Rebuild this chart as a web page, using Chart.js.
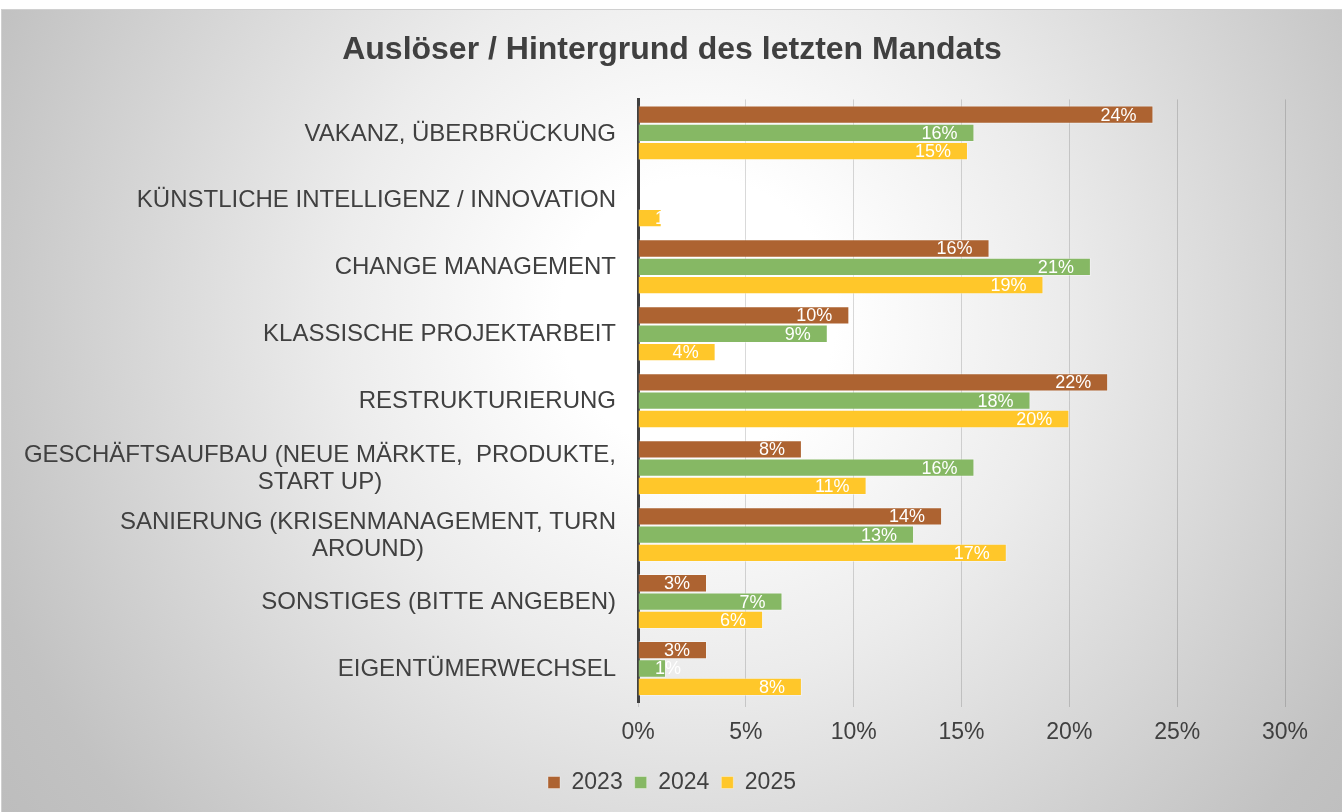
<!DOCTYPE html>
<html>
<head>
<meta charset="utf-8">
<script src="https://cdn.jsdelivr.net/npm/chart.js@4/dist/chart.umd.min.js"></script>
<style>
  html, body { margin: 0; padding: 0; background: #fff; }
  #wrap {
    position: absolute; left: 1px; top: 9px; width: 1340px; height: 803px;
    border-top: 1px solid #d0d0d0; border-left: 1px solid #d0d0d0;
    background: radial-gradient(circle farthest-corner at 52% 38%, #ffffff 0%, #ffffff 16%, #ececec 42%, #c2c2c2 88%, #bdbdbd 100%);
  }
  canvas { display: block; }
</style>
</head>
<body>
<div id="wrap"><canvas id="chart" width="1340" height="803"></canvas></div>
<script>
const categories = [
    'VAKANZ, ÜBERBRÜCKUNG',
    'KÜNSTLICHE INTELLIGENZ / INNOVATION',
    'CHANGE MANAGEMENT',
    'KLASSISCHE PROJEKTARBEIT',
    'RESTRUKTURIERUNG',
    ['GESCHÄFTSAUFBAU (NEUE MÄRKTE,  PRODUKTE,', 'START UP)'],
    ['SANIERUNG (KRISENMANAGEMENT, TURN', 'AROUND)'],
    'SONSTIGES (BITTE ANGEBEN)',
    'EIGENTÜMERWECHSEL'
];
const years = ['2023', '2024', '2025'];
const values2023 = [0.239, null, 0.163, 0.098, 0.218, 0.076, 0.141, 0.032, 0.032];
const values2024 = [0.156, null, 0.210, 0.088, 0.182, 0.156, 0.128, 0.067, 0.013];
const values2025 = [0.153, 0.011, 0.188, 0.036, 0.200, 0.106, 0.171, 0.058, 0.076];
const xTicks = [0, 0.05, 0.10, 0.15, 0.20, 0.25, 0.30];

const colors = ['#AD6331', '#86B864', '#FFC72A'];
const font = '"Liberation Sans", Arial, sans-serif';
const textColor = '#404040';

// white value labels at the inside end of each bar
const barLabels = {
    id: 'barLabels',
    afterDatasetsDraw(chart) {
        const ctx = chart.ctx;
        const left = chart.chartArea.left;
        ctx.save();
        ctx.font = '18px ' + font;
        ctx.fillStyle = '#ffffff';
        ctx.textBaseline = 'middle';
        ctx.textAlign = 'left';
        chart.data.datasets.forEach((ds, i) => {
            chart.getDatasetMeta(i).data.forEach((bar, j) => {
                const v = ds.data[j];
                if (v == null) return;
                const txt = Math.round(v * 100) + '%';
                const w = ctx.measureText(txt).width;
                const x = Math.max(bar.x - 17 - w, left + 17);
                ctx.fillText(txt, x, bar.y + 1);
            });
        });
        ctx.restore();
    }
};

// category labels: block right-aligned, lines centred inside the block
const catLabels = {
    id: 'catLabels',
    afterDraw(chart) {
        const ctx = chart.ctx;
        const yScale = chart.scales.y;
        const right = chart.chartArea.left - 22;
        ctx.save();
        ctx.font = '24px ' + font;
        ctx.fillStyle = textColor;
        ctx.textBaseline = 'middle';
        ctx.textAlign = 'center';
        categories.forEach((c, i) => {
            const lines = Array.isArray(c) ? c : [c];
            const maxW = Math.max(...lines.map(l => ctx.measureText(l).width));
            const cx = right - maxW / 2;
            const yc = yScale.getPixelForValue(i);
            const lh = 27;
            lines.forEach((l, k) => {
                ctx.fillText(l, cx, yc + (k - (lines.length - 1) / 2) * lh + 1);
            });
        });
        ctx.restore();
    }
};

new Chart(document.getElementById('chart'), {
    type: 'bar',
    data: {
        labels: categories,
        datasets: [values2023, values2024, values2025].map((d, i) => ({
            label: years[i],
            data: d,
            backgroundColor: colors[i],
            borderColor: 'rgba(255,255,255,0.35)',
            borderWidth: 1,
            categoryPercentage: 0.82,
            barPercentage: 1.0
        }))
    },
    options: {
        indexAxis: 'y',
        responsive: false,
        animation: false,
        layout: { padding: { left: 0, right: 0, top: 0, bottom: 9 } },
        scales: {
            x: {
                min: 0,
                max: 0.30,
                afterBuildTicks(scale) {
                    scale.ticks = xTicks.map(v => ({ value: v }));
                },
                afterFit(scale) { scale.height = 57; },
                grid: { color: 'rgba(0,0,0,0.15)', lineWidth: 1, tickLength: 5, drawTicks: true },
                border: { display: false },
                ticks: {
                    padding: 12,
                    color: textColor,
                    font: { family: font, size: 23 },
                    callback: v => Math.round(v * 100) + '%'
                }
            },
            y: {
                afterFit(scale) { scale.width = 636; },
                grid: { display: false },
                border: { display: true, color: '#404040', width: 3 },
                ticks: { display: false }
            },
            // empty spacer on the right so title and legend stay centred on the page
            yRight: {
                type: 'linear',
                axis: 'y',
                position: 'right',
                afterFit(scale) { scale.width = 57; },
                grid: { display: false },
                border: { display: false },
                ticks: { display: false }
            }
        },
        plugins: {
            title: {
                display: true,
                text: 'Auslöser / Hintergrund des letzten Mandats',
                color: textColor,
                font: { family: font, size: 32, weight: 'bold' },
                padding: { top: 21, bottom: 30 }
            },
            legend: {
                position: 'bottom',
                labels: {
                    color: textColor,
                    font: { family: font, size: 23 },
                    boxWidth: 12,
                    boxHeight: 12,
                    padding: 12
                }
            },
            tooltip: { enabled: false }
        }
    },
    plugins: [barLabels, catLabels]
});
</script>
</body>
</html>
